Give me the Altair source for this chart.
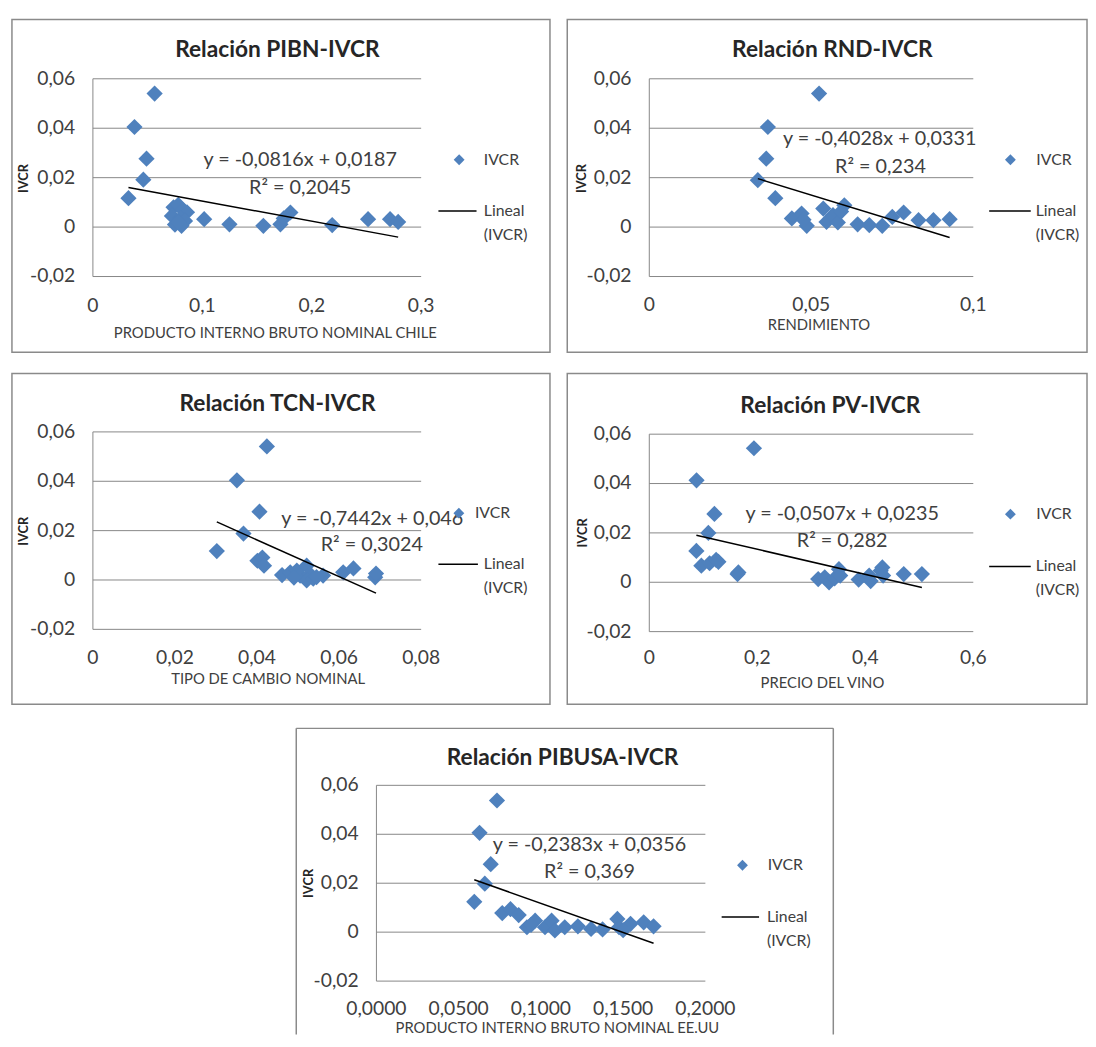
import math
import altair as alt
import pandas as pd

# ------------------------------------------------------------------ data
Y_TICKS = [-0.02, 0.0, 0.02, 0.04, 0.06]
Y_TICK_LABELS = ["-0,02", "0", "0,02", "0,04", "0,06"]

TITLES = ["Relación PIBN-IVCR", "Relación RND-IVCR", "Relación TCN-IVCR",
          "Relación PV-IVCR", "Relación PIBUSA-IVCR"]
X_TITLES = ["PRODUCTO INTERNO BRUTO NOMINAL CHILE", "RENDIMIENTO",
            "TIPO DE CAMBIO NOMINAL", "PRECIO DEL VINO",
            "PRODUCTO INTERNO BRUTO NOMINAL EE.UU"]
Y_TITLE = "IVCR"
SERIES_NAME = "IVCR"
TREND_NAME = "Lineal (IVCR)"

X_TICKS = [[0, 0.1, 0.2, 0.3],
           [0, 0.05, 0.1],
           [0, 0.02, 0.04, 0.06, 0.08],
           [0, 0.2, 0.4, 0.6],
           [0, 0.05, 0.1, 0.15, 0.2]]
X_TICK_LABELS = [["0", "0,1", "0,2", "0,3"],
                 ["0", "0,05", "0,1"],
                 ["0", "0,02", "0,04", "0,06", "0,08"],
                 ["0", "0,2", "0,4", "0,6"],
                 ["0,0000", "0,0500", "0,1000", "0,1500", "0,2000"]]

SLOPES = [-0.0816, -0.4028, -0.7442, -0.0507, -0.2383]
INTERCEPTS = [0.0187, 0.0331, 0.046, 0.0235, 0.0356]
EQ_TEXT = ["y = -0,0816x + 0,0187", "y = -0,4028x + 0,0331",
           "y = -0,7442x + 0,046", "y = -0,0507x + 0,0235",
           "y = -0,2383x + 0,0356"]
R2_TEXT = ["R² = 0,2045", "R² = 0,234", "R² = 0,3024", "R² = 0,282", "R² = 0,369"]

PIBN_X = [0.0564, 0.0380, 0.0490, 0.0461, 0.0325, 0.0737, 0.0780, 0.0820, 0.0860,
          0.0722, 0.0800, 0.0842, 0.0750, 0.0810, 0.0780, 0.1017, 0.1248, 0.1558,
          0.1714, 0.1744, 0.1805, 0.2187, 0.2515, 0.2716, 0.2790]
PIBN_Y = [0.0540, 0.0405, 0.0277, 0.0192, 0.0117, 0.0080, 0.0090, 0.0070, 0.0060,
          0.0045, 0.0035, 0.0025, 0.0010, 0.0005, 0.0020, 0.0032, 0.0011, 0.0005,
          0.0011, 0.0035, 0.0059, 0.0008, 0.0032, 0.0032, 0.0021]

RND_X = [0.0524, 0.0366, 0.0361, 0.0335, 0.0389, 0.0440, 0.0470, 0.0486, 0.0476,
         0.0537, 0.0547, 0.0567, 0.0582, 0.0602, 0.0592, 0.0643, 0.0679, 0.0719,
         0.0750, 0.0785, 0.0831, 0.0877, 0.0927]
RND_Y = [0.0540, 0.0405, 0.0277, 0.0190, 0.0117, 0.0035, 0.0055, 0.0005, 0.0030,
         0.0075, 0.0021, 0.0048, 0.0019, 0.0088, 0.0063, 0.0011, 0.0008, 0.0005,
         0.0041, 0.0059, 0.0028, 0.0028, 0.0032]

TCN_X = [0.0424, 0.0351, 0.0406, 0.0367, 0.0302, 0.0401, 0.0413, 0.0417, 0.0461,
         0.0481, 0.0497, 0.0505, 0.0521, 0.0529, 0.0521, 0.0537, 0.0561, 0.0610,
         0.0635, 0.0688, 0.0690, 0.0545, 0.0490]
TCN_Y = [0.0541, 0.0404, 0.0277, 0.0188, 0.0117, 0.0078, 0.0091, 0.0058, 0.0020,
         0.0031, 0.0038, 0.0018, 0.0058, 0.0024, -0.0002, 0.0005, 0.0018, 0.0031,
         0.0047, 0.0011, 0.0026, 0.0012, 0.0010]

PV_X = [0.1938, 0.0875, 0.1206, 0.1094, 0.0872, 0.0964, 0.1117, 0.1238, 0.1280,
        0.1634, 0.1650, 0.3128, 0.3249, 0.3329, 0.3432, 0.3512, 0.3536, 0.3877,
        0.4072, 0.4100, 0.4285, 0.4316, 0.4330, 0.4712, 0.5048]
PV_Y = [0.0543, 0.0413, 0.0277, 0.0200, 0.0127, 0.0067, 0.0077, 0.0091, 0.0083,
        0.0033, 0.0040, 0.0013, 0.0020, 0.0000, 0.0016, 0.0053, 0.0027, 0.0011,
        0.0027, 0.0005, 0.0047, 0.0060, 0.0027, 0.0033, 0.0033]

PIBUSA_X = [0.0733, 0.0627, 0.0695, 0.0659, 0.0595, 0.0765, 0.0815, 0.0865, 0.0915,
            0.0965, 0.1025, 0.1065, 0.1085, 0.1145, 0.1225, 0.1305, 0.1375, 0.1465,
            0.1475, 0.1545, 0.1625, 0.1685, 0.0940, 0.1500]
PIBUSA_Y = [0.0538, 0.0406, 0.0278, 0.0198, 0.0124, 0.0078, 0.0094, 0.0070, 0.0020,
            0.0047, 0.0020, 0.0047, 0.0007, 0.0020, 0.0024, 0.0013, 0.0011, 0.0054,
            0.0020, 0.0034, 0.0040, 0.0024, 0.0030, 0.0008]

X_DATA = [PIBN_X, RND_X, TCN_X, PV_X, PIBUSA_X]
Y_DATA = [PIBN_Y, RND_Y, TCN_Y, PV_Y, PIBUSA_Y]

# ------------------------------------------------------------------ style / layout
FONT = "Lato"
BLUE = "#4F81BD"
GRID = "#868686"
FRAME = "#8a8a8a"
TEXT = "#404040"
DARK = "#262626"

# positions in pixels relative to each panel frame
LAYOUT = [
    dict(W=545, H=337, plot=(82, 414.5, 60, 260.3), title=(268.8, 31.3),
         xtitle=(266.8, 318), ytitle=(12, 161), eq=(292, 142), r2=(292, 171),
         diamond=(453, 142), label_x=478, line=(432, 470.6, 194), line_label_x=478,
         xlab_dy=29.7, open_bottom=False),
    dict(W=526.5, H=337, plot=(83.1, 411.3, 60, 260.3), title=(268.5, 31.3),
         xtitle=(254.9, 309.7), ytitle=(14.7, 161), eq=(316.5, 121.3), r2=(317.3, 149),
         diamond=(448.9, 142), label_x=475.2, line=(427.4, 469.5, 194), line_label_x=474.5,
         xlab_dy=29.4, open_bottom=False),
    dict(W=545, H=335, plot=(82, 414.5, 59.2, 259.2), title=(269, 30.8),
         xtitle=(259.5, 309.8), ytitle=(12, 159.8), eq=(365, 147.5), r2=(364.5, 174.2),
         diamond=(452.7, 141.5), label_x=469, line=(432, 472, 193.2), line_label_x=478,
         xlab_dy=29, open_bottom=False),
    dict(W=526.5, H=335, plot=(83.1, 411.3, 61.5, 261.5), title=(266.5, 33.2),
         xtitle=(258.5, 313.2), ytitle=(16.5, 161.5), eq=(278.5, 142.5), r2=(278.5, 169.5),
         diamond=(448.9, 142.5), label_x=475.2, line=(427.4, 469.5, 195.5), line_label_x=474.5,
         xlab_dy=26.7, open_bottom=False),
    dict(W=544, H=310, plot=(81.2, 414.4, 57.7, 256), title=(269.7, 29.7),
         xtitle=(264.5, 303.5), ytitle=(12.8, 157), eq=(297, 118.7), r2=(297, 146),
         diamond=(452, 138.7), label_x=477.5, line=(430.9, 468.8, 191), line_label_x=476.8,
         xlab_dy=28.7, open_bottom=True),
]

TICK_FS = 19.5
EQ_FS = 20
TITLE_FS = 23
XTITLE_FS = 15
YTITLE_FS = 13
LEG_FS = 16
DIAMOND_SIZE = 270
LEG_DIAMOND_SIZE = 121


def text_layer(txt, pos, **kw):
    return alt.Chart(pd.DataFrame({"t": [txt]})).mark_text(font=FONT, **kw).encode(
        x=alt.value(pos[0]), y=alt.value(pos[1]), text="t:N")


def frame_edge(xa, xb, ya, yb):
    return alt.Chart(pd.DataFrame({"v": [0]})).mark_rule(
        color=FRAME, strokeWidth=1.5).encode(
        x=alt.value(xa), x2=alt.value(xb), y=alt.value(ya), y2=alt.value(yb))


def make_panel(i):
    lay = LAYOUT[i]
    W, H = lay["W"], lay["H"]
    L, R, T, B = lay["plot"]
    xt = X_TICKS[i]
    x0, x1 = xt[0], xt[-1]
    kx = (x1 - x0) / (R - L)
    xdom = [x0 - L * kx, x1 + (W - R) * kx]
    y0, y1 = Y_TICKS[0], Y_TICKS[-1]
    ky = (y1 - y0) / (B - T)
    ydom = [y0 - (H - B) * ky, y1 + T * ky]
    xs = alt.Scale(domain=xdom, nice=False, zero=False)
    ys = alt.Scale(domain=ydom, nice=False, zero=False)

    def X(f):
        return alt.X(f, type="quantitative", scale=xs, axis=None)

    def Y(f):
        return alt.Y(f, type="quantitative", scale=ys, axis=None)

    grid_df = pd.DataFrame({"y": Y_TICKS, "xa": [x0] * len(Y_TICKS), "xb": [x1] * len(Y_TICKS)})
    grid = alt.Chart(grid_df).mark_rule(color=GRID, strokeWidth=1).encode(
        x=X("xa"), x2=alt.X2("xb"), y=Y("y"))

    axis_df = pd.DataFrame({"x": [x0], "ya": [y0], "yb": [y1]})
    axis_line = alt.Chart(axis_df).mark_rule(color=GRID, strokeWidth=1).encode(
        x=X("x"), y=Y("ya"), y2=alt.Y2("yb"))

    ylab_df = pd.DataFrame({"y": Y_TICKS, "t": Y_TICK_LABELS, "x": [x0] * len(Y_TICKS)})
    ylabels = alt.Chart(ylab_df).mark_text(
        align="right", baseline="middle", dx=-18, font=FONT, fontSize=TICK_FS, color=TEXT
    ).encode(x=X("x"), y=Y("y"), text="t:N")

    xlab_df = pd.DataFrame({"x": xt, "t": X_TICK_LABELS[i], "y": [y0] * len(xt)})
    xlabels = alt.Chart(xlab_df).mark_text(
        align="center", baseline="middle", dy=lay["xlab_dy"], font=FONT,
        fontSize=TICK_FS, color=TEXT
    ).encode(x=X("x"), y=Y("y"), text="t:N")

    # legend geometry (Vega legend entry size = max(ceil(sqrt(size)+strokeWidth), fontSize))
    dcx, dcy = lay["diamond"]
    dsz = max(math.ceil(math.sqrt(LEG_DIAMOND_SIZE)), LEG_FS)
    dlx = dcx - dsz / 2
    shape_legend = alt.Legend(
        orient="none", legendX=dlx, legendY=dcy - dsz / 2, title=None, padding=0,
        symbolSize=LEG_DIAMOND_SIZE, symbolFillColor=BLUE, symbolStrokeWidth=0,
        symbolOpacity=1, labelOffset=max(0.0, lay["label_x"] - dlx - dsz), labelFont=FONT,
        labelFontSize=LEG_FS, labelColor=TEXT)

    lx0, lx1, ly = lay["line"]
    llen = lx1 - lx0
    lsz = max(math.ceil(llen + 1.5), LEG_FS)
    llx = (lx0 + lx1) / 2 - lsz / 2
    stroke_legend = alt.Legend(
        orient="none", legendX=llx, legendY=ly - lsz / 2, title=None, padding=0,
        symbolSize=llen ** 2, symbolStrokeWidth=1.5, symbolStrokeColor="#000000",
        labelOffset=max(0.0, lay["line_label_x"] - llx - lsz), labelFont=FONT,
        labelFontSize=LEG_FS, labelColor=TEXT, labelExpr="split(datum.label, ' ')")

    pts_df = pd.DataFrame({"x": X_DATA[i], "y": Y_DATA[i],
                           "s": [SERIES_NAME] * len(X_DATA[i])})
    points = alt.Chart(pts_df).mark_point(
        filled=True, size=DIAMOND_SIZE, color=BLUE, opacity=1, strokeWidth=0
    ).encode(
        x=X("x"), y=Y("y"),
        shape=alt.Shape("s:N", scale=alt.Scale(range=["diamond"]), legend=shape_legend))

    xmin, xmax = min(X_DATA[i]), max(X_DATA[i])
    tr_df = pd.DataFrame({"x": [xmin, xmax],
                          "y": [SLOPES[i] * xmin + INTERCEPTS[i], SLOPES[i] * xmax + INTERCEPTS[i]],
                          "s": [TREND_NAME, TREND_NAME]})
    trend = alt.Chart(tr_df).mark_line(strokeWidth=1.5).encode(
        x=X("x"), y=Y("y"),
        stroke=alt.Stroke("s:N", scale=alt.Scale(range=["#000000"]), legend=stroke_legend))

    title = text_layer(TITLES[i], lay["title"], fontSize=TITLE_FS, fontWeight="bold",
                       color=DARK, align="center", baseline="middle")
    xtitle = text_layer(X_TITLES[i], lay["xtitle"], fontSize=XTITLE_FS, color=TEXT,
                        align="center", baseline="middle")
    ytitle = text_layer(Y_TITLE, lay["ytitle"], fontSize=YTITLE_FS, fontWeight="bold",
                        color=DARK, align="center", baseline="middle", angle=270)
    eq = text_layer(EQ_TEXT[i], lay["eq"], fontSize=EQ_FS, color=TEXT,
                    align="center", baseline="middle")
    r2 = text_layer(R2_TEXT[i], lay["r2"], fontSize=EQ_FS, color=TEXT,
                    align="center", baseline="middle")

    layers = [grid, axis_line, ylabels, xlabels, points, trend,
              title, xtitle, ytitle, eq, r2]
    if lay["open_bottom"]:
        # frame continues below the visible page: draw top, left and right edges only
        layers += [frame_edge(0, W, 0, 0), frame_edge(0, 0, 0, H), frame_edge(W, W, 0, H)]
        return alt.layer(*layers).properties(width=W, height=H)
    return alt.layer(*layers).properties(
        width=W, height=H,
        view=alt.ViewBackground(stroke=FRAME, strokeWidth=1.5))


def indep(c):
    return c.resolve_scale(shape="independent", stroke="independent").resolve_legend(
        shape="independent", stroke="independent")


panels = [make_panel(i) for i in range(5)]

spacer = alt.Chart(pd.DataFrame({"v": [0]})).mark_point(opacity=0).encode(
    x=alt.value(0), y=alt.value(0)).properties(width=285, height=20)

row1 = indep(alt.hconcat(panels[0], panels[1], spacing=15.5))
row2 = indep(alt.hconcat(panels[2], panels[3], spacing=15.5))
row3 = indep(alt.hconcat(spacer, panels[4], spacing=0))

chart = indep(alt.vconcat(row1, row2, row3, spacing=19.5)).properties(
    padding={"left": 0, "top": 4, "right": 0, "bottom": 0}
).configure(
    view=alt.ViewConfig(stroke="transparent"),
    style=alt.StyleConfigIndex(**{"guide-label": alt.MarkConfig(lineHeight=24)}),
)

chart.save("out.html", embed_options={"renderer": "svg", "actions": False})
